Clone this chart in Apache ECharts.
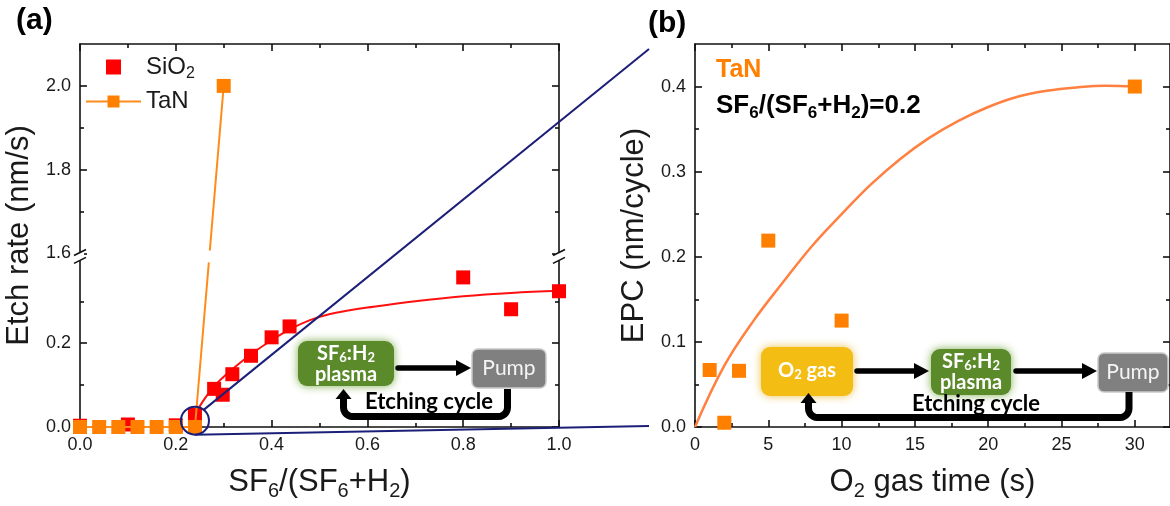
<!DOCTYPE html>
<html>
<head>
<meta charset="utf-8">
<script src="https://cdn.jsdelivr.net/npm/echarts@6/dist/echarts.min.js"></script>
<style>
  html, body { margin: 0; padding: 0; background: #fff; }
  #chart { width: 1170px; height: 506px; }
</style>
</head>
<body>
<div id="chart"></div>
<script>
// (a) etch rate vs SF6/(SF6+H2)
const ratioTaN = [0, 0.04, 0.08, 0.12, 0.16, 0.2, 0.24, 0.3];
const rateTaN = [0, 0, 0, 0, 0, 0, 0, 2.0];
const ratioSiO2 = [0, 0.1, 0.2, 0.24, 0.28, 0.298, 0.318, 0.357, 0.4, 0.4375, 0.8, 0.9, 1.0];
const rateSiO2 = [0.003, 0.006, 0.004, 0.029, 0.091, 0.077, 0.126, 0.17, 0.214, 0.24, 0.357, 0.281, 0.324];
// red fit line
const fitRatio = [0.24, 0.26, 0.28, 0.3, 0.32, 0.36, 0.4, 0.44, 0.48, 0.52, 0.56, 0.6, 0.7, 0.8, 0.9, 1.0];
const fitRate = [0.03, 0.067, 0.097, 0.12, 0.14, 0.176, 0.207, 0.234, 0.255, 0.269, 0.278, 0.285, 0.3, 0.312, 0.32, 0.325];

// (b) EPC vs O2 gas time
const o2Time = [1, 2, 3, 5, 10, 30];
const epc = [0.067, 0.005, 0.066, 0.219, 0.125, 0.4];
const fitTime = [0, 2, 4, 6, 8, 10, 12, 14, 16, 18, 20, 22, 24, 26, 28, 30];
const fitEpc = [0, 0.072, 0.125, 0.17, 0.213, 0.25, 0.285, 0.315, 0.34, 0.36, 0.376, 0.388, 0.395, 0.399, 0.401, 0.4];

// tick values
const ticksAx = [0, 0.2, 0.4, 0.6, 0.8, 1.0];
const minorAx = [0.1, 0.3, 0.5, 0.7, 0.9];
const ticksAy = [0, 0.2, 1.6, 1.8, 2.0];
const minorAy = [0.1, 0.3, 1.7, 1.9];
const ticksBx = [0, 5, 10, 15, 20, 25, 30];
const minorBx = [2.5, 7.5, 12.5, 17.5, 22.5, 27.5];
const ticksBy = [0, 0.1, 0.2, 0.3, 0.4];
const minorBy = [0.05, 0.15, 0.25, 0.35];

// broken y axis of (a): 0-0.4 below, 1.6-2.1 above
const BRK_LO = 0.4, BRK_HI = 1.6, BRK_GAP = 0.014;
const brk = v => (v <= BRK_LO ? v : v - (BRK_HI - BRK_LO) + BRK_GAP);
const unbrk = t => (t <= BRK_LO + 1e-9 ? t : t + (BRK_HI - BRK_LO) - BRK_GAP);

const FONT = 'Liberation Sans';
const CAL = 'Lato';
const INK = '#111';
const pairs = (xs, ys, f) => xs.map((x, i) => [x, f ? f(ys[i]) : ys[i]]);
// subscript style: top padding pushes the digit below the baseline
const subStyle = (size, pad, extra) => Object.assign({
  fontSize: size, fontFamily: FONT, color: '#1a1a1a', verticalAlign: 'top', padding: [pad, 0, 0, 0]
}, extra || {});

function ax(o) {
  const major = !o.minor;
  return {
    type: 'value',
    gridIndex: o.grid,
    position: o.pos,
    min: o.min,
    max: o.max,
    axisLine: { show: major, onZero: false, lineStyle: { color: INK, width: 1.6 } },
    axisTick: { inside: true, length: major ? 7 : 4, customValues: o.ticks, lineStyle: { color: INK, width: 1.6 } },
    axisLabel: o.fmt ? {
      show: true, customValues: o.ticks, formatter: o.fmt, margin: 9,
      fontSize: 18, fontFamily: FONT, color: '#1a1a1a'
    } : { show: false },
    splitLine: { show: false },
    name: o.name || '',
    nameLocation: 'middle',
    nameGap: o.gap,
    nameTextStyle: {
      fontSize: 31, fontFamily: FONT, color: '#1a1a1a',
      rich: { s: subStyle(20, 18) }
    },
    silent: true
  };
}

const yMaxA = brk(2.1);
const xAxes = [
  ax({ grid: 0, pos: 'bottom', min: 0, max: 1, ticks: ticksAx, fmt: v => v.toFixed(1),
       name: 'SF{s|6}/(SF{s|6}+H{s|2})', gap: 36 }),
  ax({ grid: 0, pos: 'bottom', min: 0, max: 1, ticks: minorAx, minor: true }),
  ax({ grid: 0, pos: 'top', min: 0, max: 1, ticks: ticksAx }),
  ax({ grid: 0, pos: 'top', min: 0, max: 1, ticks: minorAx, minor: true }),
  ax({ grid: 1, pos: 'bottom', min: 0, max: 32.4, ticks: ticksBx, fmt: v => String(v),
       name: 'O{s|2} gas time (s)', gap: 36 }),
  ax({ grid: 1, pos: 'bottom', min: 0, max: 32.4, ticks: minorBx, minor: true }),
  ax({ grid: 1, pos: 'top', min: 0, max: 32.4, ticks: ticksBx }),
  ax({ grid: 1, pos: 'top', min: 0, max: 32.4, ticks: minorBx, minor: true })
];
const yAxes = [
  ax({ grid: 0, pos: 'left', min: 0, max: yMaxA, ticks: ticksAy.map(brk), fmt: v => unbrk(v).toFixed(1),
       name: 'Etch rate (nm/s)', gap: 45 }),
  ax({ grid: 0, pos: 'left', min: 0, max: yMaxA, ticks: minorAy.map(brk), minor: true }),
  ax({ grid: 0, pos: 'right', min: 0, max: yMaxA, ticks: ticksAy.map(brk) }),
  ax({ grid: 0, pos: 'right', min: 0, max: yMaxA, ticks: minorAy.map(brk), minor: true }),
  ax({ grid: 1, pos: 'left', min: 0, max: 0.45, ticks: ticksBy, fmt: v => v.toFixed(1),
       name: 'EPC (nm/cycle)', gap: 45 }),
  ax({ grid: 1, pos: 'left', min: 0, max: 0.45, ticks: minorBy, minor: true }),
  ax({ grid: 1, pos: 'right', min: 0, max: 0.45, ticks: ticksBy }),
  ax({ grid: 1, pos: 'right', min: 0, max: 0.45, ticks: minorBy, minor: true })
];

const chart = echarts.init(document.getElementById('chart'), null, { renderer: 'canvas' });

chart.setOption({
  animation: false,
  backgroundColor: '#fff',
  grid: [
    { left: 80, top: 44, width: 479, height: 385 },
    { left: 695, top: 44, width: 477, height: 385 }
  ],
  xAxis: xAxes,
  yAxis: yAxes,
  legend: {
    orient: 'vertical', left: 80, top: 50, itemWidth: 55, itemHeight: 15, itemGap: 8,
    selectedMode: false,
    data: [{ name: 'SiO2', icon: 'path://M0 0H10V10H0Z' }, { name: 'TaN' }],
    formatter: n => (n === 'SiO2' ? 'SiO{s|2}' : n),
    textStyle: {
      fontSize: 24, fontFamily: FONT, color: '#1a1a1a',
      rich: { s: subStyle(16, 13) }
    }
  },
  series: [
    {
      name: 'SiO2fit', type: 'line', xAxisIndex: 0, yAxisIndex: 0, z: 2,
      data: pairs(fitRatio, fitRate), smooth: 0.4, showSymbol: false, silent: true,
      lineStyle: { color: '#FF1010', width: 2 }
    },
    {
      name: 'SiO2', type: 'scatter', xAxisIndex: 0, yAxisIndex: 0, z: 3,
      data: pairs(ratioSiO2, rateSiO2), symbol: 'rect', symbolSize: 14,
      itemStyle: { color: '#FF0000', opacity: 1 }
    },
    {
      name: 'TaN', type: 'line', xAxisIndex: 0, yAxisIndex: 0, z: 4,
      data: pairs(ratioTaN, rateTaN, brk), symbol: 'rect', symbolSize: 14, showAllSymbol: true,
      itemStyle: { color: '#FF8000', opacity: 1 }, lineStyle: { color: '#FF8C1A', width: 2 }
    },
    {
      name: 'TaNb', type: 'scatter', xAxisIndex: 4, yAxisIndex: 4, z: 3,
      data: pairs(o2Time, epc), symbol: 'rect', symbolSize: 14,
      itemStyle: { color: '#FF8000', opacity: 1 }
    },
    {
      name: 'TaNbfit', type: 'line', xAxisIndex: 4, yAxisIndex: 4, z: 2,
      data: pairs(fitTime, fitEpc), smooth: 0.4, showSymbol: false, silent: true,
      lineStyle: { color: '#FF8040', width: 2.5 }
    }
  ]
});

// ---- decorations: break marks, zoom circle, flow diagrams ----
const px = (g, p) => chart.convertToPixel({ gridIndex: g }, p);
const yLo = px(0, [0, BRK_LO])[1];
const yHi = px(0, [0, BRK_LO + BRK_GAP])[1];
const yMid = (yLo + yHi) / 2;
const xL = px(0, [0, 0])[0];
const xR = px(0, [1, 0])[0];

function breakMark(x) {
  return [
    { type: 'rect', z: 120, shape: { x: x - 4, y: yHi - 1, width: 8, height: yLo - yHi + 2 }, style: { fill: '#fff' } },
    { type: 'line', z: 121, shape: { x1: x - 6, y1: yHi + 2, x2: x + 6, y2: yHi - 4 }, style: { stroke: INK, lineWidth: 1.6 } },
    { type: 'line', z: 121, shape: { x1: x - 6, y1: yLo + 4, x2: x + 6, y2: yLo - 2 }, style: { stroke: INK, lineWidth: 1.6 } }
  ];
}

// gap where the TaN line crosses the break
const pA = px(0, [ratioTaN[6], brk(rateTaN[6])]);
const pB = px(0, [ratioTaN[7], brk(rateTaN[7])]);
const xCross = pA[0] + (pB[0] - pA[0]) * (pA[1] - yMid) / (pA[1] - pB[1]);

const circ = px(0, [0.24, 0.008]);
const NAVY = '#1B1F78';

function box(x, y, w, h, fill, glow) {
  return { type: 'rect', z: 110, shape: { x, y, width: w, height: h, r: 9 },
    style: { fill, shadowBlur: 9, shadowColor: glow } };
}
function label(x, y, text, o) {
  return { type: 'text', z: 112, x, y, style: Object.assign({
    text, fill: '#fff', fontFamily: CAL, fontSize: 20, fontWeight: 'bold',
    align: 'center', verticalAlign: 'middle', lineHeight: 21,
    rich: { s: { fontSize: 13, fontFamily: CAL, fontWeight: 'bold', fill: '#fff', verticalAlign: 'bottom', lineHeight: 12 } }
  }, o || {}) };
}
function arrow(x1, x2, y) {
  return [
    { type: 'line', z: 113, shape: { x1, y1: y, x2: x2 - 12, y2: y }, style: { stroke: '#000', lineWidth: 5.5, lineCap: 'round' } },
    { type: 'polygon', z: 113, shape: { points: [[x2 - 15, y - 8], [x2, y], [x2 - 15, y + 8]] }, style: { fill: '#000' } }
  ];
}
function corner(cx, cy, r, a0, a1) {
  const pts = [];
  for (let i = 0; i <= 6; i++) {
    const a = a0 + (a1 - a0) * i / 6;
    pts.push([cx + r * Math.cos(a), cy + r * Math.sin(a)]);
  }
  return pts;
}
function loop(xr, yTop, yBot, xl, yHead) {
  const r = 9;
  const pts = [[xr, yTop]]
    .concat(corner(xr - r, yBot - r, r, 0, Math.PI / 2))
    .concat(corner(xl + r, yBot - r, r, Math.PI / 2, Math.PI))
    .concat([[xl, yHead + 9]]);
  return [
    { type: 'polyline', z: 113, shape: { points: pts }, style: { stroke: '#000', lineWidth: 7, lineJoin: 'round', fill: null } },
    { type: 'polygon', z: 113, shape: { points: [[xl - 8, yHead + 10], [xl, yHead], [xl + 8, yHead + 10]] }, style: { fill: '#000' } }
  ];
}
function pump(x, y, w) {
  return [
    { type: 'rect', z: 110, shape: { x, y, width: w, height: 39, r: 6 }, style: { fill: '#808080', stroke: '#C9C9C9', lineWidth: 1.5 } },
    label(x + w / 2, y + 19.5, 'Pump', { fontWeight: 'normal', fill: '#F4F4F4', fontSize: 21 })
  ];
}
const GREEN = '#5B8A2A', GREEN_GLOW = 'rgba(120,170,70,0.95)';

chart.setOption({
  graphic: [
    ...breakMark(xL), ...breakMark(xR),
    { type: 'rect', z: 119, shape: { x: xCross - 5, y: yHi - 3, width: 10, height: yLo - yHi + 6 }, style: { fill: '#fff' } },
    // zoom-in marker
    { type: 'circle', z: 130, shape: { cx: circ[0], cy: circ[1] - 3, r: 14 }, style: { stroke: NAVY, lineWidth: 2, fill: null } },
    { type: 'line', z: 130, shape: { x1: circ[0] + 9, y1: circ[1] - 14, x2: 649, y2: 49 }, style: { stroke: NAVY, lineWidth: 2 } },
    { type: 'line', z: 130, shape: { x1: circ[0], y1: circ[1] + 11, x2: 649, y2: 426 }, style: { stroke: NAVY, lineWidth: 2 } },
    // flow (a)
    box(298, 341, 96, 45, GREEN, GREEN_GLOW),
    label(346, 364, 'SF{s|6}:H{s|2}\nplasma'),
    ...arrow(398, 471, 368),
    ...pump(472, 349, 74),
    label(429, 402, 'Etching cycle', { fill: '#000', fontSize: 22 }),
    ...loop(507.5, 389, 416.5, 343.5, 389),
    // flow (b)
    box(761, 347, 92, 49, '#F3BD14', 'rgba(235,190,70,0.95)'),
    label(807, 371, 'O{s|2} gas'),
    ...arrow(857, 929, 371),
    box(931, 349, 80, 46, GREEN, GREEN_GLOW),
    label(971, 372, 'SF{s|6}:H{s|2}\nplasma'),
    ...arrow(1016, 1097, 371),
    ...pump(1098, 353, 70),
    label(976, 404, 'Etching cycle', { fill: '#000', fontSize: 22 }),
    ...loop(1129, 392, 417.5, 808.5, 393),
    // panel tags and notes
    { type: 'text', z: 130, x: 16, y: 21, style: { text: '(a)', fontFamily: FONT, fontSize: 30, fontWeight: 'bold', fill: '#000', verticalAlign: 'middle' } },
    { type: 'text', z: 130, x: 648, y: 24, style: { text: '(b)', fontFamily: FONT, fontSize: 30, fontWeight: 'bold', fill: '#000', verticalAlign: 'middle' } },
    { type: 'text', z: 130, x: 716, y: 70, style: { text: 'TaN', fontFamily: FONT, fontSize: 25, fontWeight: 'bold', fill: '#FF8000', verticalAlign: 'middle' } },
    { type: 'text', z: 130, x: 716, y: 106, style: {
      text: 'SF{s|6}/(SF{s|6}+H{s|2})=0.2', fontFamily: FONT, fontSize: 26, fontWeight: 'bold', fill: '#000',
      verticalAlign: 'middle', rich: { s: subStyle(17, 14, { fontWeight: 'bold', fill: '#000' }) } } }
  ]
});
</script>
</body>
</html>
